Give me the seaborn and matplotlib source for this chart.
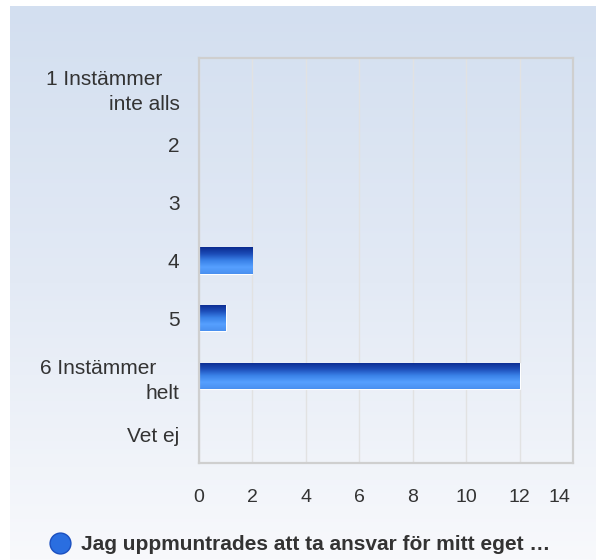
import numpy as np
import pandas as pd
import matplotlib
matplotlib.use("Agg")
import matplotlib.pyplot as plt
import matplotlib.transforms as mtransforms
from matplotlib.colors import LinearSegmentedColormap
from matplotlib.lines import Line2D
import seaborn as sns

categories = ["1 Instämmer\ninte alls", "2", "3", "4", "5", "6 Instämmer\nhelt", "Vet ej"]
tick_labels = ["1 Instämmer   \ninte alls", "2", "3", "4", "5", "6 Instämmer    \nhelt", "Vet ej"]
values = [0, 0, 0, 2, 1, 12, 0]
series_name = "Jag uppmuntrades att ta ansvar för mitt eget …"
xticks = [0, 2, 4, 6, 8, 10, 12, 14]

sns.set_theme(style="white")
plt.rcParams['font.family'] = ['Liberation Sans', 'DejaVu Sans']

fig = plt.figure(figsize=(5.96, 5.60), dpi=100)

# background gradient panel
bg = fig.add_axes([10/596, 0, 1 - 10/596, 1 - 6/560], zorder=-10)
grad = np.linspace(0, 1, 256).reshape(-1, 1)
bg_cmap = LinearSegmentedColormap.from_list("bg", ["#d3dff0", "#e3eaf5", "#f8f9fc"])
bg.imshow(grad, aspect="auto", cmap=bg_cmap, extent=[0, 1, 0, 1], origin="upper")
bg.set_axis_off()

ax = fig.add_axes([199/596, 1 - 463/560, (573-199)/596, (463-58)/560])
ax.patch.set_alpha(0)

df = pd.DataFrame({"cat": categories, "val": values})
sns.barplot(data=df, y="cat", x="val", orient="h", ax=ax, color="#2060d0",
            width=0.45, edgecolor="white", linewidth=0.8)

ax.set_xlim(0, 14)
ax.set_xticks(xticks)
ax.set_xticklabels([str(t) for t in xticks])
ax.set_yticks(range(len(categories)))
ax.set_yticklabels(tick_labels)
ax.set_xlabel("")
ax.set_ylabel("")
ax.grid(axis="x", color="#e2e2e2", linewidth=1)
ax.set_axisbelow(True)
for s in ax.spines.values():
    s.set_visible(True)
    s.set_color("#cfcfcf")
    s.set_linewidth(1.6)

ax.tick_params(axis="y", length=0, labelsize=15, colors="#333333", pad=14)
ax.tick_params(axis="x", length=0, labelsize=14, colors="#333333", pad=19)
for lbl in ax.get_yticklabels():
    lbl.set_horizontalalignment("right")
    lbl.set_multialignment("right")
    lbl.set_linespacing(1.4)

# shift last x label to the left like the reference
last = ax.get_xticklabels()[-1]
last.set_transform(last.get_transform() + mtransforms.ScaledTranslation(-14/100, 0, fig.dpi_scale_trans))

# gradient fill of bars (dark at top, light near bottom)
bar_cmap = LinearSegmentedColormap.from_list("bar", ["#0a2a8e", "#1c4cb8", "#3a82e8", "#56a0ff", "#4a90f0"])
ylim = ax.get_ylim()
for p in ax.patches:
    x0, y0 = p.get_x(), p.get_y()
    w, h = p.get_width(), p.get_height()
    if w <= 0:
        continue
    im = ax.imshow(np.linspace(0, 1, 100).reshape(-1, 1), cmap=bar_cmap, aspect="auto",
                   extent=[x0, x0 + w, y0 + h, y0], origin="upper", zorder=p.get_zorder() + 0.1)
    im.set_clip_path(p)
ax.set_ylim(ylim)
ax.set_xlim(0, 14)

handle = Line2D([], [], marker="o", linestyle="none", markersize=15,
                markerfacecolor="#2a6ee0", markeredgecolor="#1a4fc0")
fig.legend([handle], [series_name], loc="center", bbox_to_anchor=(0.5 - 3/596, 1 - 545/560),
           frameon=False, prop={"weight": "bold", "size": 15}, handletextpad=0.0,
           labelcolor="#333333")

fig.savefig("out.png", dpi=100)
